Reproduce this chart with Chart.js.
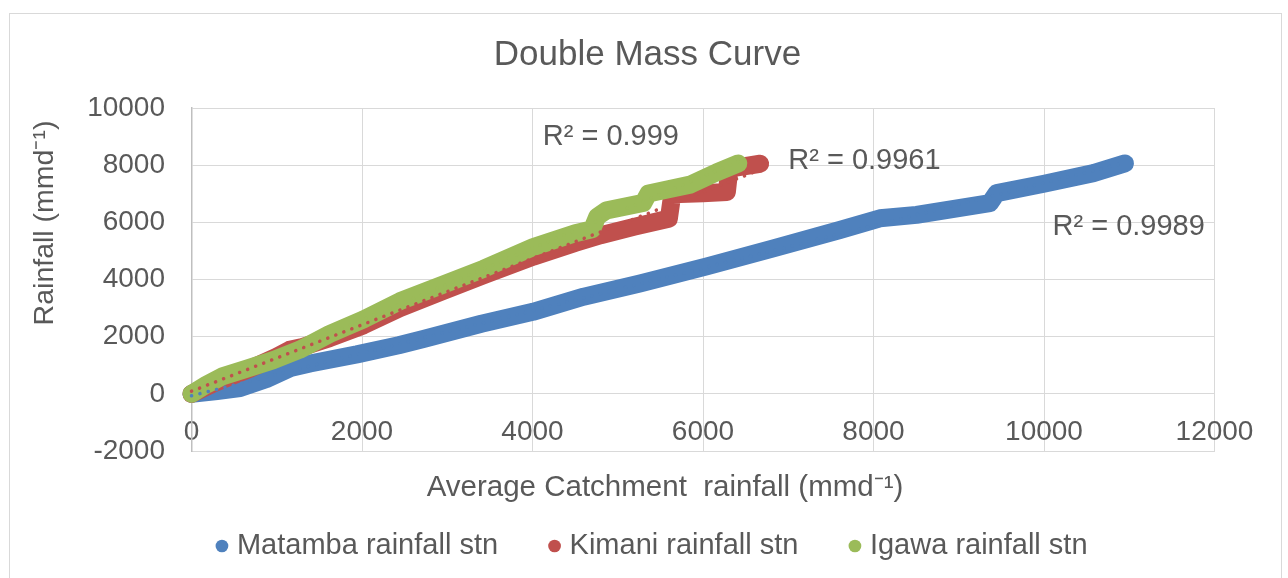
<!DOCTYPE html>
<html>
<head>
<meta charset="utf-8">
<title>Double Mass Curve</title>
<script src="https://cdn.jsdelivr.net/npm/chart.js@4.4.1/dist/chart.umd.min.js"></script>
<style>
  html, body { margin: 0; padding: 0; background: #fff; }
</style>
</head>
<body>
<canvas id="dmc" width="1288" height="578"></canvas>
<script>
const FONT = "'Liberation Sans', Arial, sans-serif";

const seriesNames = ['Matamba rainfall stn', 'Kimani rainfall stn', 'Igawa rainfall stn'];
const seriesColors = ['#4F81BD', '#C0504D', '#9BBB59'];

// cumulative rainfall (x = average catchment, y = station)
const matambaX = [0, 300, 570, 880, 1160, 1390, 1940, 2430, 2720, 3400, 4005, 4600, 5260, 6045, 6825, 7605, 8075, 8505, 9365, 9445, 10000, 10580, 10950];
const matambaY = [0, 100, 200, 520, 900, 1060, 1380, 1700, 1920, 2450, 2870, 3400, 3860, 4460, 5090, 5730, 6140, 6260, 6670, 7020, 7350, 7720, 8060];

const kimaniX = [0, 280, 690, 1000, 1150, 1300, 1620, 2020, 2445, 2955, 3430, 4010, 4500, 4800, 5200, 5600, 5640, 6000, 6280, 6310, 6670];
const kimaniY = [0, 390, 880, 1300, 1540, 1640, 1950, 2400, 3000, 3600, 4150, 4800, 5280, 5550, 5850, 6130, 6980, 7020, 7060, 7880, 8050];

const igawaX = [0, 180, 370, 650, 960, 1270, 1620, 2015, 2445, 2955, 3425, 4010, 4500, 4700, 4760, 4870, 5300, 5360, 5850, 6160, 6415];
const igawaY = [0, 330, 620, 880, 1180, 1545, 2095, 2600, 3240, 3825, 4375, 5135, 5620, 5760, 6200, 6420, 6680, 7010, 7320, 7750, 8060];

const r2Text = ['R² = 0.9989', 'R² = 0.9961', 'R² = 0.999'];
const r2AtX = [10100, 7000, 4120];
const r2AtY = [5830, 8140, 9000];

const xMin = 0, xMax = 12000, xStep = 2000;
const yMin = -2000, yMax = 10000, yStep = 2000;

const xTitle = 'Average Catchment  rainfall (mmd\u207B\u00B9)';
const yTitle = 'Rainfall (mmd\u207B\u00B9)';

function pts(xs, ys) {
  return xs.map((x, i) => ({x: x, y: ys[i]}));
}

// least squares line over the x range of a series, like an Excel linear trendline
function fitLine(xs, ys) {
  const n = xs.length;
  const mx = xs.reduce((a, v) => a + v, 0) / n;
  const my = ys.reduce((a, v) => a + v, 0) / n;
  let sxy = 0, sxx = 0;
  xs.forEach((x, i) => {
    sxy += (x - mx) * (ys[i] - my);
    sxx += (x - mx) * (x - mx);
  });
  const m = sxy / sxx;
  const b = my - m * mx;
  const x0 = Math.min(...xs), x1 = Math.max(...xs);
  return [{x: x0, y: m * x0 + b}, {x: x1, y: m * x1 + b}];
}

const stations = [
  {xs: matambaX, ys: matambaY, order: 3},
  {xs: kimaniX, ys: kimaniY, order: 2},
  {xs: igawaX, ys: igawaY, order: 1}
];

const datasets = [];
stations.forEach((s, i) => {
  datasets.push({
    label: seriesNames[i],
    data: pts(s.xs, s.ys),
    showLine: true,
    borderColor: seriesColors[i],
    backgroundColor: seriesColors[i],
    pointBackgroundColor: seriesColors[i],
    pointBorderWidth: 0,
    pointRadius: 0,
    pointHoverRadius: 0,
    borderWidth: 18,
    borderCapStyle: 'round',
    borderJoinStyle: 'round',
    tension: 0,
    order: s.order,
    clip: false
  });
});
stations.forEach((s, i) => {
  datasets.push({
    label: seriesNames[i] + ' trend',
    data: fitLine(s.xs, s.ys),
    showLine: true,
    borderColor: seriesColors[i],
    borderWidth: 3.5,
    borderDash: [0.1, 8.5],
    borderCapStyle: 'round',
    pointRadius: 0,
    pointHoverRadius: 0,
    order: 0,
    clip: false
  });
});

const decor = {
  id: 'decor',
  afterLayout(chart) {
    // Excel centres the legend a little right of the title
    chart.legend.left += 7;
    chart.legend.right += 7;
  },
  beforeDraw(chart) {
    const ctx = chart.ctx;
    ctx.save();
    ctx.fillStyle = '#ffffff';
    ctx.fillRect(0, 0, chart.width, chart.height);
    ctx.strokeStyle = '#d9d9d9';
    ctx.lineWidth = 1;
    ctx.strokeRect(9.5, 13.5, 1272, 600);
    ctx.restore();
  },
  afterDraw(chart) {
    const {ctx, scales} = chart;
    ctx.save();
    ctx.fillStyle = '#595959';
    ctx.textBaseline = 'middle';
    ctx.textAlign = 'left';
    ctx.font = '29px ' + FONT;
    r2Text.forEach((t, i) => {
      ctx.fillText(t, scales.x.getPixelForValue(r2AtX[i]), scales.y.getPixelForValue(r2AtY[i]));
    });
    ctx.textAlign = 'center';
    ctx.font = '29.5px ' + FONT;
    ctx.fillText(xTitle, 665, 488);
    ctx.translate(45, 223);
    ctx.rotate(-Math.PI / 2);
    ctx.font = '28.5px ' + FONT;
    ctx.fillText(yTitle, 0, 0);
    ctx.restore();
  }
};

Chart.defaults.font.family = FONT;
Chart.defaults.color = '#595959';

new Chart(document.getElementById('dmc'), {
  type: 'scatter',
  data: {datasets: datasets},
  plugins: [decor],
  options: {
    responsive: false,
    animation: false,
    events: [],
    layout: {padding: {left: 80.5, right: 73.5, top: 0, bottom: 7.5}},
    plugins: {
      tooltip: {enabled: false},
      title: {
        display: true,
        text: 'Double Mass Curve',
        color: '#595959',
        font: {size: 35, weight: 'normal'},
        padding: {top: 34, bottom: 32}
      },
      legend: {
        position: 'bottom',
        labels: {
          usePointStyle: true,
          boxWidth: 1,
          boxHeight: 9,
          padding: 56,
          color: '#595959',
          font: {size: 29},
          filter: item => item.datasetIndex < 3,
          sort: (a, b) => a.datasetIndex - b.datasetIndex
        }
      }
    },
    scales: {
      x: {
        type: 'linear',
        min: xMin,
        max: xMax,
        afterFit: s => { s.height = 24.5; },
        ticks: {
          stepSize: xStep,
          mirror: true,
          padding: 2,
          color: '#595959',
          font: {size: 28},
          callback: v => String(v)
        },
        grid: {color: '#d9d9d9', lineWidth: 1, drawTicks: false},
        border: {color: '#d9d9d9'}
      },
      y: {
        type: 'linear',
        min: yMin,
        max: yMax,
        afterFit: s => { s.width = 111; },
        ticks: {
          stepSize: yStep,
          padding: 26.5,
          color: '#595959',
          font: {size: 28},
          callback: v => String(v)
        },
        grid: {color: '#d9d9d9', lineWidth: 1, drawTicks: false},
        border: {color: '#bfbfbf', width: 1.5}
      }
    }
  }
});
</script>
</body>
</html>
